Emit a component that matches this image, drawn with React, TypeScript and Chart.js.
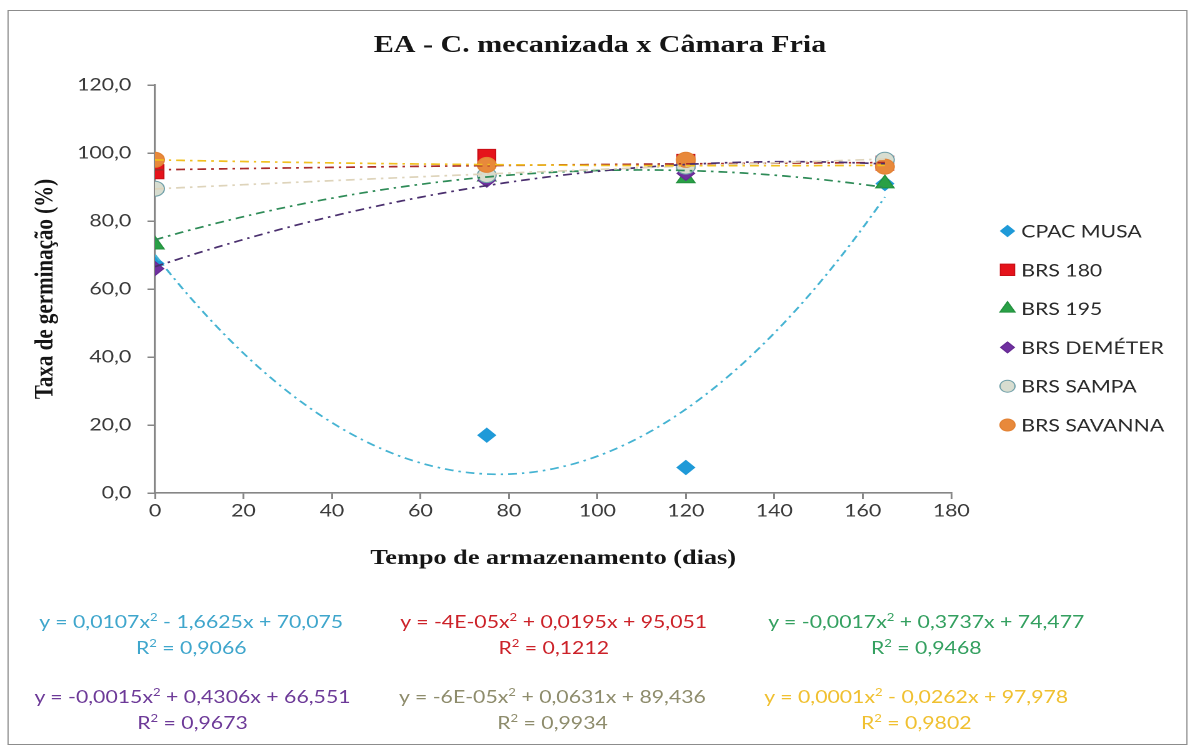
import React, { useEffect, useRef } from 'react';
import { Chart, registerables } from 'chart.js';
import { drawPoint } from 'chart.js/helpers';

Chart.register(...registerables);

// Storage time (days) at which germination was measured
const STORAGE_DAYS = [0, 75, 120, 165];

const SERIES_NAMES = ['CPAC MUSA', 'BRS 180', 'BRS 195', 'BRS DEMÉTER', 'BRS SAMPA', 'BRS SAVANNA'];

// Germination rate (%) per cultivar
const CPAC_MUSA = [67.5, 17, 7.5, 91];
const BRS_180 = [94.5, 99, 97.5, 97];
const BRS_195 = [73, 93, 92.5, 91];
const BRS_DEMETER = [66, 92, 94, 97];
const BRS_SAMPA = [89.5, 93.5, 96, 98];
const BRS_SAVANNA = [98, 96.5, 98, 96];

// Second-order polynomial trend lines: y = A·x² + B·x + C
const TREND_A = [0.0107, -4e-5, -0.0017, -0.0015, -6e-5, 0.0001];
const TREND_B = [-1.6625, 0.0195, 0.3737, 0.4306, 0.0631, -0.0262];
const TREND_C = [70.075, 95.051, 74.477, 66.551, 89.436, 97.978];
const TREND_R2 = [0.9066, 0.1212, 0.9468, 0.9673, 0.9934, 0.9802];
const TREND_END_DAY = 165;

// Axis tick values
const X_TICKS = [0, 20, 40, 60, 80, 100, 120, 140, 160, 180];
const Y_TICKS = [0, 20, 40, 60, 80, 100, 120];

const TITLE = 'EA - C. mecanizada x Câmara Fria';
const X_TITLE = 'Tempo de armazenamento (dias)';
const Y_TITLE = 'Taxa de germinação (%)';

const SERIES = [CPAC_MUSA, BRS_180, BRS_195, BRS_DEMETER, BRS_SAMPA, BRS_SAVANNA];

// ---- styling ----
const WIDTH = 960;
const HEIGHT = 756;
const STRETCH = 1.25;
const SANS = 'Lato';
const SERIF = '"Liberation Serif", "Times New Roman", serif';

const MARKERS = [
  { style: 'rectRot', r: 7, lr: 5.5, fill: '#1f9ad8', stroke: '#1f9ad8' },
  { style: 'rect', r: 10, lr: 8, fill: '#e5131b', stroke: '#c90f16' },
  { style: 'triangle', r: 8.5, lr: 7, fill: '#29a046', stroke: '#23903e' },
  { style: 'rectRot', r: 7, lr: 5.5, fill: '#7030a0', stroke: '#652a92' },
  { style: 'circle', r: 7.5, lr: 6, fill: '#d8ddd0', stroke: '#6f9fa8' },
  { style: 'circle', r: 7.5, lr: 6, fill: '#e8893b', stroke: '#e28234' },
];
const TREND_COLORS = ['#45b3d2', '#a82a2a', '#2e8b57', '#4a2f6e', '#ded4bb', '#f0c020'];
const EQ_COLORS = ['#3fa6cc', '#cc2229', '#34a060', '#6d3a98', '#8e8c6c', '#f0c030'];
const EQ_POS = [
  { cx: 153, top: 609 },
  { cx: 443, top: 609 },
  { cx: 741, top: 609 },
  { cx: 154, top: 684 },
  { cx: 442, top: 684 },
  { cx: 733, top: 684 },
];
const LEGEND_X = 806;
const LEGEND_TEXT_GAP = 11;
const LEGEND_TOP = 231;
const LEGEND_STEP = 38.8;

// Excel-style number text with a decimal comma; very small values use E notation
const fmtNum = (v: number): string => {
  if (v !== 0 && Math.abs(v) < 1e-4) {
    const [m, e] = v.toExponential(0).split('e');
    const exp = parseInt(e, 10);
    const sign = exp < 0 ? '-' : '+';
    return `${m}E${sign}${String(Math.abs(exp)).padStart(2, '0')}`;
  }
  return String(v).replace('.', ',');
};

const headingPlugin = {
  id: 'headingAndLegend',
  afterDraw(chart: any) {
    const ctx = chart.ctx as CanvasRenderingContext2D;
    ctx.save();
    ctx.fillStyle = '#151515';
    ctx.font = `bold 24px ${SERIF}`;
    ctx.textAlign = 'center';
    ctx.textBaseline = 'middle';
    ctx.fillText(TITLE, WIDTH / 2, 46);

    SERIES_NAMES.forEach((name, i) => {
      const y = LEGEND_TOP + i * LEGEND_STEP;
      const m = MARKERS[i];
      ctx.fillStyle = m.fill;
      ctx.strokeStyle = m.stroke;
      ctx.lineWidth = 1;
      drawPoint(ctx, { pointStyle: m.style, radius: m.lr, borderWidth: 1, rotation: 0 } as any, LEGEND_X, y);
      ctx.fillStyle = '#2a2a2a';
      ctx.font = `17px ${SANS}`;
      ctx.textAlign = 'left';
      ctx.textBaseline = 'middle';
      ctx.fillText(name, LEGEND_X + LEGEND_TEXT_GAP, y + 1);
    });
    ctx.restore();
  },
};

function equationText(i: number): string {
  const a = TREND_A[i];
  const b = TREND_B[i];
  const c = TREND_C[i];
  return `y = ${fmtNum(a)}x\u00b2 ${b < 0 ? '-' : '+'} ${fmtNum(Math.abs(b))}x ${c < 0 ? '-' : '+'} ${fmtNum(Math.abs(c))}`;
}

export default function App() {
  const canvasRef = useRef<HTMLCanvasElement>(null);

  useEffect(() => {
    const canvas = canvasRef.current;
    if (!canvas) return;

    const datasets: any[] = [];
    SERIES.forEach((vals, i) => {
      const m = MARKERS[i];
      datasets.push({
        label: SERIES_NAMES[i],
        data: STORAGE_DAYS.map((x, k) => ({ x, y: vals[k] })),
        showLine: false,
        pointStyle: m.style,
        pointRadius: m.r,
        pointHoverRadius: m.r,
        backgroundColor: m.fill,
        borderColor: m.stroke,
        pointBorderWidth: 1,
        order: 20 - i,
      });
    });
    TREND_A.forEach((a, i) => {
      const pts: { x: number; y: number }[] = [];
      for (let x = 0; x <= TREND_END_DAY; x += 1) {
        pts.push({ x, y: a * x * x + TREND_B[i] * x + TREND_C[i] });
      }
      datasets.push({
        label: `${SERIES_NAMES[i]} (tendência)`,
        data: pts,
        showLine: true,
        fill: false,
        pointRadius: 0,
        pointHoverRadius: 0,
        borderColor: TREND_COLORS[i],
        backgroundColor: TREND_COLORS[i],
        borderWidth: 1.7,
        borderDash: [7, 4, 2, 4],
        tension: 0,
        order: 6 - i,
      });
    });

    const axisGray = '#868686';
    const chart = new Chart(canvas, {
      type: 'scatter',
      data: { datasets },
      plugins: [headingPlugin],
      options: {
        animation: false,
        responsive: false,
        devicePixelRatio: 2,
        layout: { padding: { left: 23, right: 199, top: 85, bottom: 183 } },
        plugins: {
          legend: { display: false },
          title: { display: false },
          tooltip: { enabled: false },
        },
        scales: {
          x: {
            type: 'linear',
            min: 0,
            max: 180,
            afterFit: (s: any) => { s.height = 80; },
            afterBuildTicks: (s: any) => { s.ticks = X_TICKS.map((v) => ({ value: v })); },
            ticks: {
              color: '#3a3a3a',
              font: { family: SANS, size: 17 },
              padding: 2,
              maxRotation: 0,
              callback: (v: any) => String(v),
            },
            grid: { drawOnChartArea: false, drawTicks: true, tickLength: 6, color: axisGray, lineWidth: 1.5 },
            border: { display: true, color: axisGray, width: 1.6 },
            title: {
              display: true,
              text: X_TITLE,
              color: '#151515',
              font: { family: SERIF, size: 21, weight: 'bold' },
              padding: { top: 0, bottom: 2 },
            },
          },
          y: {
            type: 'linear',
            min: 0,
            max: 120,
            afterFit: (s: any) => { s.width = 101; },
            afterBuildTicks: (s: any) => { s.ticks = Y_TICKS.map((v) => ({ value: v })); },
            ticks: {
              color: '#3a3a3a',
              font: { family: SANS, size: 17 },
              padding: 13,
              callback: (v: any) => Number(v).toFixed(1).replace('.', ','),
            },
            grid: { drawOnChartArea: false, drawTicks: true, tickLength: 6, color: axisGray, lineWidth: 1.5 },
            border: { display: true, color: axisGray, width: 1.6 },
            title: {
              display: true,
              text: Y_TITLE,
              color: '#151515',
              font: { family: SERIF, size: 21, weight: 'bold' },
              padding: { top: 1, bottom: 0 },
            },
          },
        },
      } as any,
    });

    return () => chart.destroy();
  }, []);

  return (
    <div
      style={{
        position: 'absolute',
        left: 0,
        top: 0,
        width: WIDTH,
        height: HEIGHT,
        background: '#ffffff',
        transform: `scaleX(${STRETCH})`,
        transformOrigin: '0 0',
      }}
    >
      <div
        style={{
          position: 'absolute',
          left: 5.6,
          top: 10,
          width: 944.8,
          height: 735,
          border: '1.6px solid #8c8c8c',
          boxSizing: 'border-box',
        }}
      />
      <canvas
        ref={canvasRef}
        width={WIDTH}
        height={HEIGHT}
        style={{ position: 'absolute', left: 0, top: 0, width: WIDTH, height: HEIGHT }}
      />
      {EQ_POS.map((p, i) => {
        const [head, tail] = equationText(i).split('\u00b2');
        return (
          <div
            key={i}
            style={{
              position: 'absolute',
              left: p.cx - 160,
              top: p.top,
              width: 320,
              textAlign: 'center',
              fontFamily: SANS,
              fontSize: 17,
              lineHeight: '26px',
              color: EQ_COLORS[i],
              whiteSpace: 'nowrap',
            }}
          >
            <div>
              {head}
              <sup style={{ fontSize: '0.62em', lineHeight: 0 }}>2</sup>
              {tail}
            </div>
            <div>
              R<sup style={{ fontSize: '0.62em', lineHeight: 0 }}>2</sup> = {fmtNum(TREND_R2[i])}
            </div>
          </div>
        );
      })}
    </div>
  );
}
